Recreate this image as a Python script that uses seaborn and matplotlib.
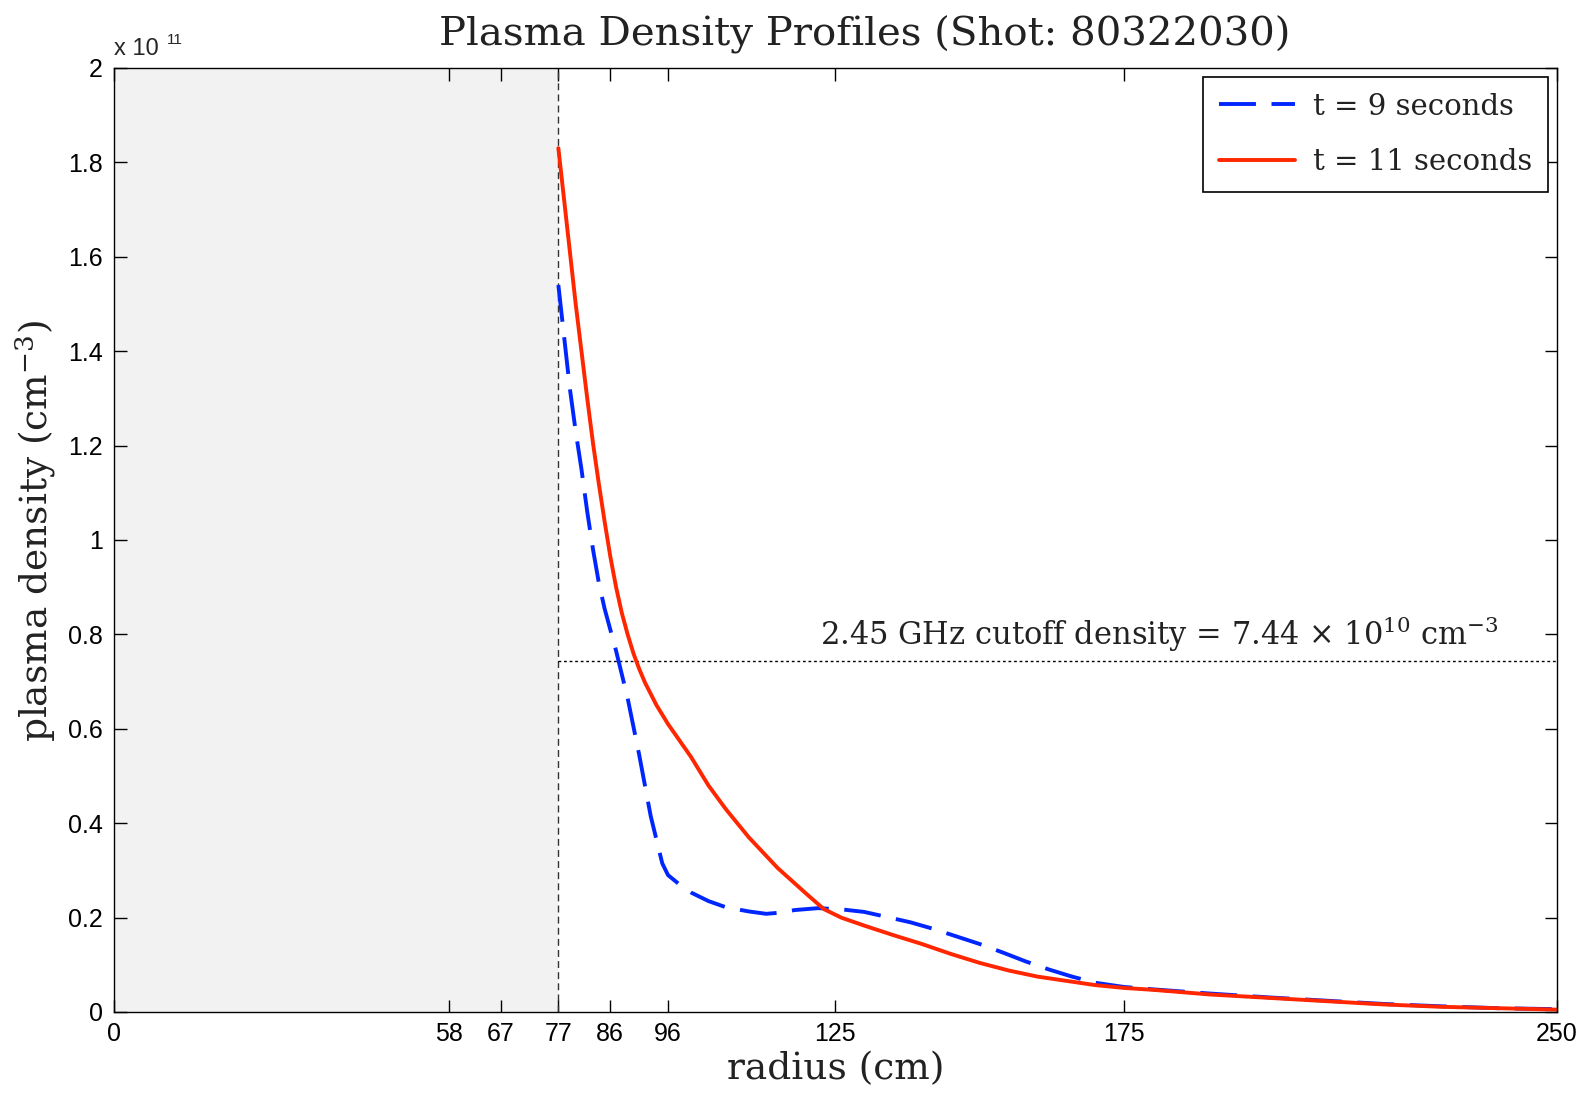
import numpy as np
import pandas as pd
import matplotlib
matplotlib.use("Agg")
import matplotlib.pyplot as plt
import seaborn as sns
from matplotlib.ticker import FixedLocator, FuncFormatter

# ---------------- data ----------------
radius_t9 = [77, 78, 79, 80, 81, 82, 83, 84, 85, 86, 87, 88, 89, 90, 91, 92, 93, 94, 95, 96,
             98, 100, 103, 106, 110, 113, 115, 118, 122, 126, 130, 134, 138, 142, 146, 150,
             154, 158, 162, 166, 170, 175, 180, 190, 200, 210, 220, 230, 240, 250]
density_t9 = [1.54, 1.43, 1.32, 1.23, 1.15, 1.06, 0.98, 0.91, 0.855, 0.81, 0.765, 0.715, 0.665,
              0.605, 0.545, 0.48, 0.415, 0.365, 0.315, 0.29,
              0.27, 0.253, 0.235, 0.222, 0.213, 0.208, 0.21, 0.216, 0.22, 0.2175, 0.212, 0.201,
              0.19, 0.176, 0.16, 0.144, 0.126, 0.107, 0.09, 0.075, 0.062, 0.053, 0.048, 0.039,
              0.031, 0.024, 0.017, 0.012, 0.008, 0.006]

radius_t11 = [77, 78, 79, 80, 81, 82, 83, 84, 85, 86, 87, 88, 89, 90, 91, 92, 94, 96, 98, 100,
              103, 106, 110, 115, 120, 123, 126, 130, 135, 140, 145, 150, 155, 160, 165, 170,
              175, 180, 190, 200, 210, 220, 230, 240, 250]
density_t11 = [1.83, 1.72, 1.61, 1.50, 1.40, 1.30, 1.205, 1.12, 1.04, 0.965, 0.90, 0.845, 0.80,
               0.76, 0.727, 0.698, 0.65, 0.61, 0.575, 0.54,
               0.48, 0.43, 0.37, 0.305, 0.25, 0.218, 0.20, 0.183, 0.163, 0.144, 0.123, 0.104,
               0.088, 0.075, 0.066, 0.057, 0.051, 0.047, 0.037, 0.030, 0.023, 0.016, 0.011,
               0.008, 0.005]

scale = 1e11
series_labels = ["t = 9 seconds", "t = 11 seconds"]
x_ticks = [0, 58, 67, 77, 86, 96, 125, 175, 250]
y_ticks = [0, 0.2, 0.4, 0.6, 0.8, 1.0, 1.2, 1.4, 1.6, 1.8, 2.0]
wall_radius = 77
cutoff_density = 7.44e10

df9 = pd.DataFrame({"radius": radius_t9, "density": np.array(density_t9) * scale})
df11 = pd.DataFrame({"radius": radius_t11, "density": np.array(density_t11) * scale})

# ---------------- style ----------------
sns.set_style("ticks")
plt.rcParams["mathtext.fontset"] = "dejavuserif"
plt.rcParams["axes.formatter.use_mathtext"] = True
plt.rcParams["font.family"] = ["Liberation Sans", "DejaVu Sans"]

SERIF = "DejaVu Serif"
TXT = "#222222"
BLUE = "#0026ff"
RED = "#ff2600"

fig = plt.figure(figsize=(15.87, 10.95), dpi=100)
ax = fig.add_axes([0.0718, 0.0758, 0.9092, 0.8622])

ax.axvspan(0, wall_radius, color="#f2f2f2", zorder=0, lw=0)

sns.lineplot(data=df9, x="radius", y="density", ax=ax, color=BLUE, lw=2.8,
             linestyle=(0, (9.5, 4.0)), label=series_labels[0], errorbar=None)
sns.lineplot(data=df11, x="radius", y="density", ax=ax, color=RED, lw=2.8,
             linestyle="-", label=series_labels[1], errorbar=None)

ax.axvline(wall_radius, color="#333333", lw=1.0, linestyle=(0, (5, 3)), zorder=1)
ax.hlines(cutoff_density, wall_radius, 250, color="black", lw=1.0,
          linestyle=(0, (2, 2)), zorder=1)
ax.text(240, cutoff_density + 0.014 * scale,
        r"2.45 GHz cutoff density = 7.44 $\times$ 10$^{10}$ cm$^{-3}$",
        family=SERIF, fontsize=22, ha="right", va="bottom", color=TXT)

ax.set_xlim(0, 250)
ax.set_ylim(0, 2 * scale)
ax.xaxis.set_major_locator(FixedLocator(x_ticks))
ax.yaxis.set_major_locator(FixedLocator([v * scale for v in y_ticks]))
ax.yaxis.set_major_formatter(FuncFormatter(lambda v, p: f"{v / scale:g}"))
ax.xaxis.set_major_formatter(FuncFormatter(lambda v, p: f"{v:g}"))
ax.tick_params(direction="in", length=9, width=1, top=True, right=True,
               labelsize=18, colors="black", pad=8)
ax.tick_params(axis="x", labeltop=False, pad=7)
ax.tick_params(axis="y", labelright=False)
for s in ax.spines.values():
    s.set_visible(True)
    s.set_linewidth(1.0)
    s.set_color("black")

ax.text(0.0, 1.008, r"x 10", transform=ax.transAxes, fontsize=17, ha="left", va="bottom")
ax.text(0.037, 1.022, "11", transform=ax.transAxes, fontsize=11, ha="left", va="bottom")

ax.set_xlabel("radius (cm)", family=SERIF, fontsize=27, labelpad=4, color=TXT)
ax.set_ylabel(r"plasma density (cm$^{-3}$)", family=SERIF, fontsize=27, color=TXT)
ax.yaxis.set_label_coords(-0.039, 0.51)
ax.set_title("Plasma Density Profiles (Shot: 80322030)", family=SERIF, fontsize=29,
             pad=16, x=0.52, color=TXT)

leg = ax.legend(loc="upper right", frameon=True, fancybox=False, framealpha=1,
                edgecolor="black", prop={"family": SERIF, "size": 21},
                handlelength=2.6, handletextpad=0.6, borderpad=0.55, labelspacing=0.95,
                borderaxespad=0.3)
leg.get_frame().set_linewidth(1.2)
for t in leg.get_texts():
    t.set_color(TXT)

fig.savefig("out.png", dpi=100)
